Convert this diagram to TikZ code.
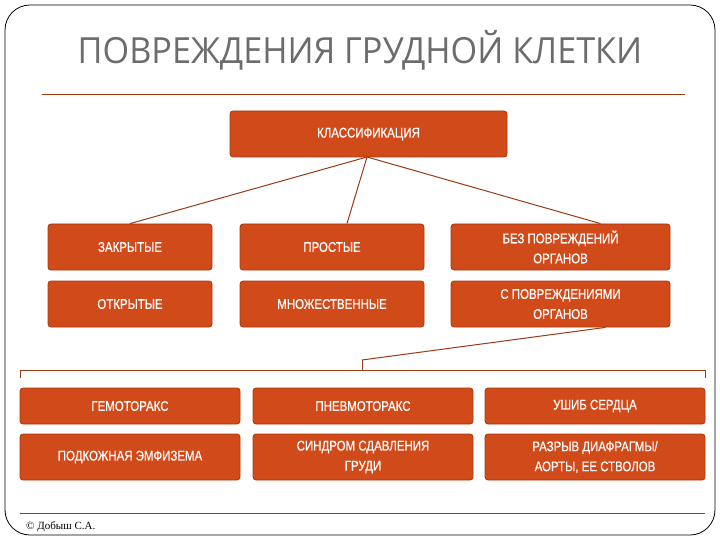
\documentclass[tikz,border=0pt]{standalone}
\usepackage{fontspec}
\setmainfont{Liberation Sans}
\newfontfamily\titlefont[FakeStretch=0.95]{Open Sans}
\newfontfamily\boxfont[FakeStretch=0.82,FakeBold=0.6]{Liberation Sans}
\newfontfamily\serifc{Liberation Serif}
\definecolor{boxc}{HTML}{D04A1A}
\definecolor{boxd}{HTML}{A8380F}
\definecolor{linec}{HTML}{9A3A12}
\begin{document}
\begin{tikzpicture}[x=1pt,y=-1pt,
  bx/.style={draw=boxd,fill=boxc,rounded corners=3pt,line width=0.8pt,text=white,
    font=\boxfont\fontsize{14}{20}\selectfont,align=center,inner sep=0pt},
  conn/.style={draw=linec,line width=1pt}]
\useasboundingbox (0,0) rectangle (720,540);
\draw[black,line width=0.8pt,rounded corners=25pt] (5,5) rectangle (715,535);
\node[font=\titlefont\fontsize{36}{38}\selectfont,text=gray!85!black] (title) at (360,50) {ПОВРЕЖДЕНИЯ ГРУДНОЙ КЛЕТКИ};
\draw[linec,line width=0.8pt] (42,94) -- (685,94);
\node[bx,minimum width=277pt,minimum height=46pt] (k) at (368.5,134) {КЛАССИФИКАЦИЯ};
\foreach \n/\x/\w/\t in {a1/130/164/ЗАКРЫТЫЕ, b1/332/184/ПРОСТЫЕ, c1/560.5/219/{БЕЗ ПОВРЕЖДЕНИЙ\\ОРГАНОВ}}
  \node[bx,minimum width=\w pt,minimum height=46pt] (\n) at (\x,247) {\t};
\foreach \n/\x/\w/\t in {a2/130/164/ОТКРЫТЫЕ, b2/332/184/МНОЖЕСТВЕННЫЕ, c2/560.5/219/{С ПОВРЕЖДЕНИЯМИ\\ОРГАНОВ}}
  \node[bx,minimum width=\w pt,minimum height=46pt] (\n) at (\x,304) {\t};
\coordinate (ks) at (367,157);
\draw[conn] (ks) -- (a1.north);
\draw[conn] (ks) -- ([xshift=15pt]b1.north);
\draw[conn] (ks) -- ([xshift=40pt]c1.north);
\coordinate (bt) at (362,360);
\draw[conn] ([xshift=45pt]c2.south) -- (bt);
\draw[conn] (20,378) -- (20,370) -- (705,370) -- (705,378);
\draw[conn] (bt) -- (362,370);
\foreach \n/\x/\t in {d1/130/ГЕМОТОРАКС, e1/363/ПНЕВМОТОРАКС, f1/595/УШИБ СЕРДЦА}
  \node[bx,minimum width=220pt,minimum height=36pt] (\n) at (\x,406) {\t};
\foreach \n/\x/\t in {d2/130/ПОДКОЖНАЯ ЭМФИЗЕМА, e2/363/{СИНДРОМ СДАВЛЕНИЯ\\ГРУДИ}, f2/595/{РАЗРЫВ ДИАФРАГМЫ/\\АОРТЫ, ЕЕ СТВОЛОВ}}
  \node[bx,minimum width=220pt,minimum height=46pt] (\n) at (\x,457) {\t};
\draw[linec,line width=0.8pt] (20,513) -- (705,513);
\node[anchor=west,font=\serifc\fontsize{11}{12}\selectfont,inner sep=0pt] (copy) at (26,527) {© Добыш С.А.};
\end{tikzpicture}
\end{document}
